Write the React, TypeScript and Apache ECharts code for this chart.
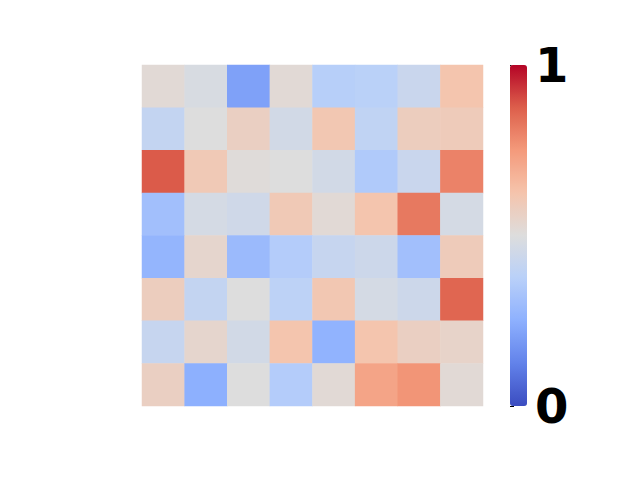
import React, { useEffect, useRef } from "react";
import * as echarts from "echarts";

const rows = ["0", "1", "2", "3", "4", "5", "6", "7"];
const cols = ["0", "1", "2", "3", "4", "5", "6", "7"];

const row0 = [0.52, 0.48, 0.21, 0.52, 0.37, 0.38, 0.43, 0.62];
const row1 = [0.41, 0.50, 0.57, 0.46, 0.61, 0.40, 0.58, 0.59];
const row2 = [0.88, 0.60, 0.51, 0.50, 0.46, 0.35, 0.43, 0.80];
const row3 = [0.31, 0.47, 0.45, 0.60, 0.52, 0.62, 0.82, 0.47];
const row4 = [0.27, 0.54, 0.29, 0.36, 0.42, 0.44, 0.31, 0.59];
const row5 = [0.58, 0.41, 0.50, 0.39, 0.61, 0.47, 0.44, 0.86];
const row6 = [0.42, 0.54, 0.46, 0.62, 0.26, 0.62, 0.57, 0.55];
const row7 = [0.57, 0.25, 0.50, 0.36, 0.52, 0.72, 0.76, 0.52];

const matrix = [row0, row1, row2, row3, row4, row5, row6, row7];

const colorbarMin = 0;
const colorbarMax = 1;

const coolwarm = [
  "#3b4cc0",
  "#6282ea",
  "#8db0fe",
  "#b9d0f9",
  "#dddddd",
  "#f5c4ac",
  "#f49a7b",
  "#dd5f4b",
  "#b40426",
];

export default function App() {
  const ref = useRef<HTMLDivElement>(null);
  useEffect(() => {
    if (!ref.current) return;
    const chart = echarts.init(ref.current, null, { renderer: "svg" });
    const data: number[][] = [];
    matrix.forEach((r, i) => r.forEach((v, j) => data.push([j, i, v])));
    chart.setOption({
      animation: false,
      backgroundColor: "#ffffff",
      grid: [
        { left: 142, top: 65, width: 341, height: 341 },
        { left: 510, top: 65, width: 17, height: 341 },
      ],
      xAxis: [
        { type: "category", data: cols, gridIndex: 0, show: false },
        { type: "value", gridIndex: 1, show: false, min: 0, max: 1 },
      ],
      yAxis: [
        { type: "category", data: rows, gridIndex: 0, inverse: true, show: false },
        {
          type: "value",
          gridIndex: 1,
          position: "right",
          min: colorbarMin,
          max: colorbarMax,
          interval: 1,
          splitLine: { show: false },
          axisLine: { show: false },
          axisTick: { show: true, length: 4, lineStyle: { color: "#000", width: 1 } },
          axisLabel: {
            fontSize: 48,
            fontWeight: "bold",
            fontFamily: "DejaVu Sans",
            color: "#000",
            margin: 8,
          },
        },
      ],
      visualMap: {
        type: "continuous",
        min: colorbarMin,
        max: colorbarMax,
        seriesIndex: 0,
        left: 510,
        top: 65,
        itemWidth: 17,
        itemHeight: 341,
        padding: 0,
        calculable: false,
        hoverLink: false,
        showLabel: false,
        text: ["", ""],
        inRange: { color: coolwarm },
      },
      series: [
        {
          type: "heatmap",
          xAxisIndex: 0,
          yAxisIndex: 0,
          data,
          progressive: 0,
          emphasis: { disabled: true },
          itemStyle: { borderWidth: 0 },
        },
      ],
    });
    return () => chart.dispose();
  }, []);
  return <div ref={ref} style={{ width: 640, height: 480, margin: -8 }} />;
}
